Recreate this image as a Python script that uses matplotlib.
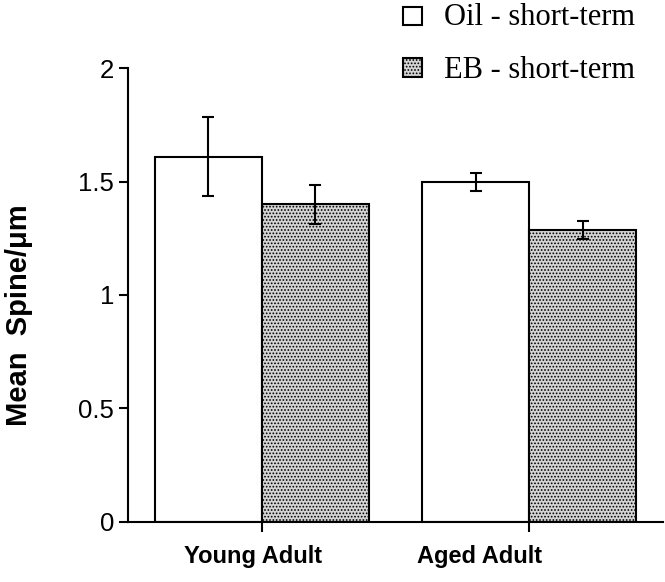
import matplotlib
matplotlib.use("Agg")
import matplotlib.pyplot as plt
from matplotlib.patches import Rectangle
from matplotlib.transforms import blended_transform_factory
import numpy as np

groups = ["Young Adult", "Aged Adult"]
series = ["Oil - short-term", "EB - short-term"]
oil_mean = [1.61, 1.50]
oil_err = [0.175, 0.04]
eb_mean = [1.40, 1.285]
eb_err = [0.085, 0.04]
yticks = [0, 0.5, 1, 1.5, 2]
ytick_labels = ["0", "0.5", "1", "1.5", "2"]

plt.rcParams['hatch.color'] = '#707070'
plt.rcParams['hatch.linewidth'] = 0.8

fig = plt.figure(figsize=(6.65, 5.82), dpi=100)
ax = fig.add_axes([128/665, 1-521.6/582, (663-128)/665, (521.6-68.3)/582])

x = np.arange(len(groups))
w = 0.4
eb_face = '#d4d4d4'
ekw = dict(elinewidth=1.5, capthick=1.5, capsize=4.6, ecolor='black')
ax.bar(x - w/2, oil_mean, w, yerr=oil_err, color='white', edgecolor='black',
       linewidth=1.5, error_kw=ekw, zorder=2)
ax.bar(x + w/2, eb_mean, w, yerr=eb_err, color=eb_face, edgecolor='black',
       linewidth=1.5, hatch='.....', error_kw=ekw, zorder=2)

ax.set_xlim(-0.5, 1.5)
ax.set_ylim(0, 2)
ax.spines['top'].set_visible(False)
ax.spines['right'].set_visible(False)
ax.spines['left'].set_linewidth(1.5)
ax.spines['bottom'].set_linewidth(1.5)
ax.set_yticks(yticks)
ax.set_yticklabels(ytick_labels, fontfamily='Liberation Sans', fontsize=18.5)
ax.tick_params(axis='y', length=6.5, width=1.5, pad=3.6)
ax.set_xticks(x)
ax.set_xticklabels([])
ax.tick_params(axis='x', length=7, width=1.5)

trans = blended_transform_factory(ax.transData, fig.transFigure)
label_x = [-0.034, 0.816]
for lx, g in zip(label_x, groups):
    ax.text(lx, 1-563/582, g, transform=trans, ha='center', va='baseline',
            fontfamily='Liberation Sans', fontweight='bold', fontsize=17)

fig.text(19/665, 1-315/582, "Mean  Spine/μm", rotation=90, ha='center', va='center',
         fontfamily='Liberation Sans', fontweight='bold', fontsize=21)

# legend
leg_rows = [(16, 25, 'white', None), (67.5, 78, eb_face, '.....')]
for (yc, yb, fc, h), lab in zip(leg_rows, series):
    sq = 18.5
    r = Rectangle((403/665, 1-(yc+sq/2)/582), sq/665, sq/582, transform=fig.transFigure,
                  facecolor=fc, edgecolor='black', linewidth=1.5, hatch=h)
    fig.patches.append(r)
    fig.text(444/665, 1-yb/582, lab, ha='left', va='baseline',
             fontfamily='Liberation Serif', fontsize=22)

fig.savefig("out.png", dpi=100)
